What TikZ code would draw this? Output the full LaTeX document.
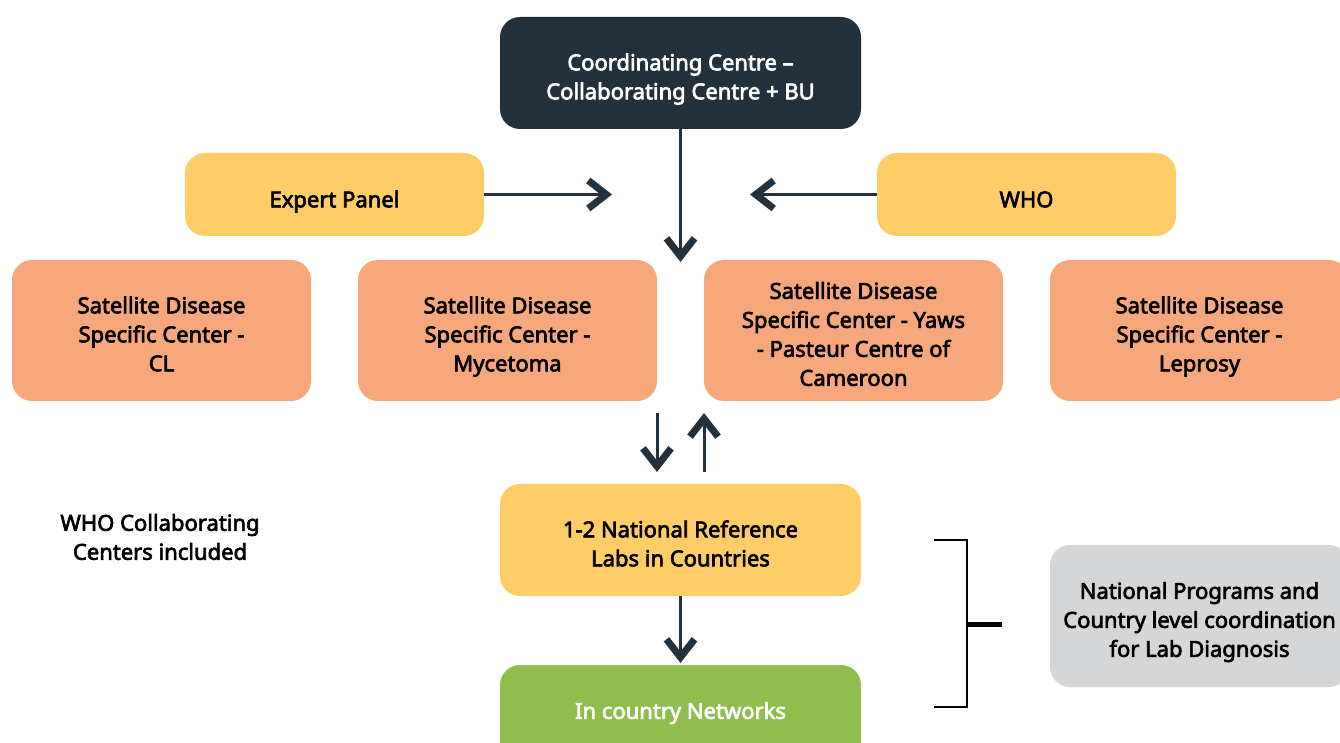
\documentclass[tikz,border=0pt]{standalone}
\usepackage{fontspec}
\setmainfont{Noto Sans}
\newfontfamily\boxfont{Noto Sans}[FakeBold=3]
\usetikzlibrary{arrows.meta}

\definecolor{hubdark}{RGB}{34,49,60}
\definecolor{panelyellow}{RGB}{254,205,103}
\definecolor{satsalmon}{RGB}{246,167,123}
\definecolor{netgreen}{RGB}{143,190,78}
\definecolor{progrey}{RGB}{212,214,216}

% lines of a box, set a little below the middle
\newcommand\boxlines[2][-3pt]{\raisebox{#1}[\height][\depth]{\begin{tabular}{@{}c@{}}#2\end{tabular}}}

\tikzset{
    plaintext/.style = {align = center, inner sep = 0pt,
        font = \boxfont\fontsize{11}{14.5}\selectfont},
    box/.style = {plaintext, rounded corners = 10pt},
    widebox/.style = {box, minimum width = 180.5pt, minimum height = 56pt},
    sidebox/.style = {box, minimum width = 149.5pt, minimum height = 41.5pt, fill = panelyellow},
    satbox/.style = {box, minimum width = 149.5pt, minimum height = 70.5pt, fill = satsalmon},
    flow/.style = {hubdark, line width = 1.5pt,
        -{Straight Barb[length = 9pt, width = 14pt, line width = 3.5pt]}}
}

\begin{document}
\begin{tikzpicture}[x = 0.5pt, y = -0.5pt]
    \clip (0, 0) rectangle (1340, 743);
    \useasboundingbox (0, 0) rectangle (1340, 743);

    % top of the network
    \node[widebox, fill = hubdark, text = white] (hub) at (680.5, 73)
        {\boxlines{Coordinating Centre –\\Collaborating Centre + BU}};
    \node[sidebox] (panel) at (334.5, 194.5) {\boxlines[-3.5pt]{Expert Panel}};
    \node[sidebox] (who) at (1026.5, 194.5) {\boxlines[-3.5pt]{WHO}};

    % satellite centres
    \node[satbox] (satcl) at (161.5, 330.5) {\boxlines{Satellite Disease\\Specific Center -\\CL}};
    \node[satbox] (satmyc) at (507.5, 330.5) {\boxlines{Satellite Disease\\Specific Center -\\Mycetoma}};
    \node[satbox] (satyaws) at (853.5, 330.5) {\boxlines{Satellite Disease\\Specific Center - Yaws\\- Pasteur Centre of\\Cameroon}};
    \node[satbox] (satlep) at (1199.5, 330.5) {\boxlines{Satellite Disease\\Specific Center -\\Leprosy}};

    % country level
    \node[plaintext] (collab) at (160, 537) {WHO Collaborating\\Centers included};
    \node[widebox, fill = panelyellow] (labs) at (680.5, 540) {\boxlines{1-2 National Reference\\Labs in Countries}};
    \node[widebox, fill = netgreen, text = white] (net) at (680.5, 721)
        {\boxlines[4pt]{In country Networks}};
    \node[box, minimum width = 149.5pt, minimum height = 71pt, fill = progrey] (progs) at (1199.5, 616)
        {\boxlines{National Programs and\\Country level coordination\\for Lab Diagnosis}};

    % free ends of the arrows
    \coordinate (paneltip) at (612, 194.5);
    \coordinate (whotip) at (750, 194.5);
    \coordinate (hubtip) at (680.5, 262);
    \coordinate (downtop) at (657, 413);
    \coordinate (downtip) at (657, 472);
    \coordinate (uptop) at (704, 413);
    \coordinate (upbase) at (704, 472);
    \coordinate (nettip) at (680.5, 663);

    \draw[flow] (panel.east) -- (paneltip);
    \draw[flow] (who.west) -- (whotip);
    \draw[flow] (hub.south) -- (hubtip);
    \draw[flow] (downtop) -- (downtip);
    \draw[flow] (upbase) -- (uptop);
    \draw[flow] (labs.south) -- (nettip);

    % bracket
    \coordinate (brtop) at (934, 540);
    \coordinate (brbot) at (934, 707);
    \coordinate (brmid) at (967, 624);
    \coordinate (brend) at (1002, 624);
    \draw[line width = 1pt] (brtop) -| (brmid) |- (brbot);
    \draw[line width = 2.5pt] (brmid) -- (brend);
\end{tikzpicture}
\end{document}
